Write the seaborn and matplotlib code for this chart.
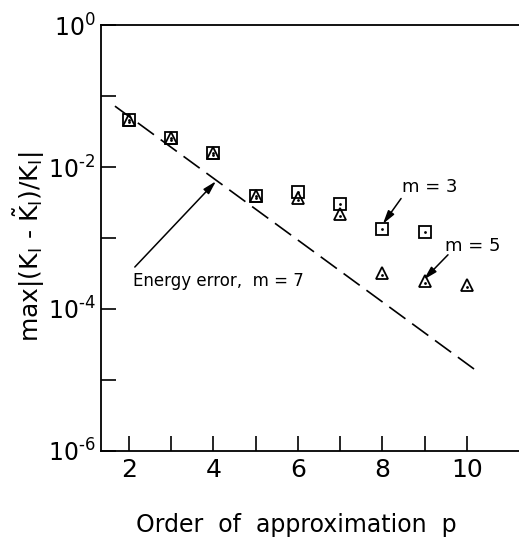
import matplotlib
matplotlib.use("Agg")
import matplotlib.pyplot as plt
import matplotlib.ticker as mticker
import seaborn as sns
import numpy as np

# values (log scale)
p_m3 = [2, 3, 4, 5, 6, 7, 8, 9]
err_m3 = [0.046, 0.026, 0.016, 0.0039, 0.0045, 0.0030, 0.00135, 0.0012]

p_m5 = [2, 3, 4, 5, 6, 7, 8, 9, 10]
err_m5 = [0.046, 0.026, 0.016, 0.0039, 0.0037, 0.0022, 0.00032, 0.00025, 0.00022]

p_energy = [1.67, 10.2]
err_energy = [0.072, 1.38e-5]

x_ticks = [2, 4, 6, 8, 10]
y_label_exps = [0, -2, -4, -6]

sns.set_style("ticks")
plt.rcParams["font.family"] = ["DejaVu Sans"]
plt.rcParams["mathtext.fontset"] = "dejavusans"
plt.rcParams["text.color"] = "k"
plt.rcParams["axes.labelcolor"] = "k"

fig = plt.figure(figsize=(5.19, 5.44), dpi=100)
ax = fig.add_axes([0.1946, 0.171, 0.8054, 0.783])

sns.lineplot(x=p_energy, y=err_energy, ax=ax, color="k", lw=1.2,
             linestyle=(0, (12, 5)))

sns.lineplot(x=p_m5, y=err_m5, ax=ax, marker="^", linestyle="", color="k",
             mfc="none", mec="k", ms=8, mew=1.3)
sns.lineplot(x=p_m3, y=err_m3, ax=ax, marker="s", linestyle="", color="k",
             mfc="none", mec="k", ms=8, mew=1.3)
# the small dots inside the symbols
sns.lineplot(x=p_m3, y=err_m3, ax=ax, marker="o", linestyle="", color="k",
             ms=2, mew=0)
sns.lineplot(x=p_m5, y=[v * 0.93 for v in err_m5], ax=ax, marker="o",
             linestyle="", color="k", ms=2, mew=0)

ax.set_yscale("log")
ax.set_xlim(1.34, 11.23)
ax.set_ylim(1e-6, 1e0)


def exp_label(e):
    # short hyphen in the exponent, like the original
    s = str(e).replace("-", "\N{HYPHEN}")
    return rf"$10^{{{s}}}$"


ax.set_xticks(range(2, 11))
ax.set_xticklabels([str(t) if t in x_ticks else "" for t in range(2, 11)])
ax.set_yticks([10.0 ** e for e in range(-6, 1)])
ax.set_yticklabels([exp_label(e) if e in y_label_exps else ""
                    for e in range(-6, 1)])
ax.yaxis.set_minor_locator(mticker.NullLocator())

ax.tick_params(axis="both", direction="in", length=11, width=1.2,
               labelsize=18, colors="k")
ax.tick_params(axis="x", pad=5)
ax.tick_params(axis="y", pad=4, labelsize=17)

for side in ["left", "bottom", "top"]:
    ax.spines[side].set_linewidth(1.3)
    ax.spines[side].set_color("k")
ax.spines["right"].set_visible(False)

ax.set_xlabel("Order  of  approximation  p", fontsize=17, labelpad=22)
ax.xaxis.set_label_coords(0.467, -0.145)
ax.set_ylabel(r"max$|$(K$_\mathrm{I}$ - $\tilde{\mathrm{K}}_\mathrm{I}$)/K$_\mathrm{I}|$",
              fontsize=18)
ax.yaxis.set_label_coords(-0.13, 0.48)

arrow = dict(arrowstyle="-|>,head_length=0.8,head_width=0.22", lw=1.1, color="k",
             shrinkA=0, shrinkB=0)
ax.annotate("", xy=(4.06, 0.0063), xytext=(2.14, 3.9e-4), arrowprops=arrow)
ax.text(2.09, 2.5e-4, "Energy error,  m = 7", fontsize=12, va="center", ha="left")

ax.annotate("", xy=(8.01, 0.00158), xytext=(8.44, 0.0036), arrowprops=arrow)
ax.text(9.12, 0.0052, "m = 3", fontsize=13, va="center", ha="center")

ax.annotate("", xy=(8.98, 2.6e-4), xytext=(9.55, 5.8e-4), arrowprops=arrow)
ax.text(10.14, 7.7e-4, "m = 5", fontsize=13, va="center", ha="center")

fig.savefig("out.png", dpi=100)
